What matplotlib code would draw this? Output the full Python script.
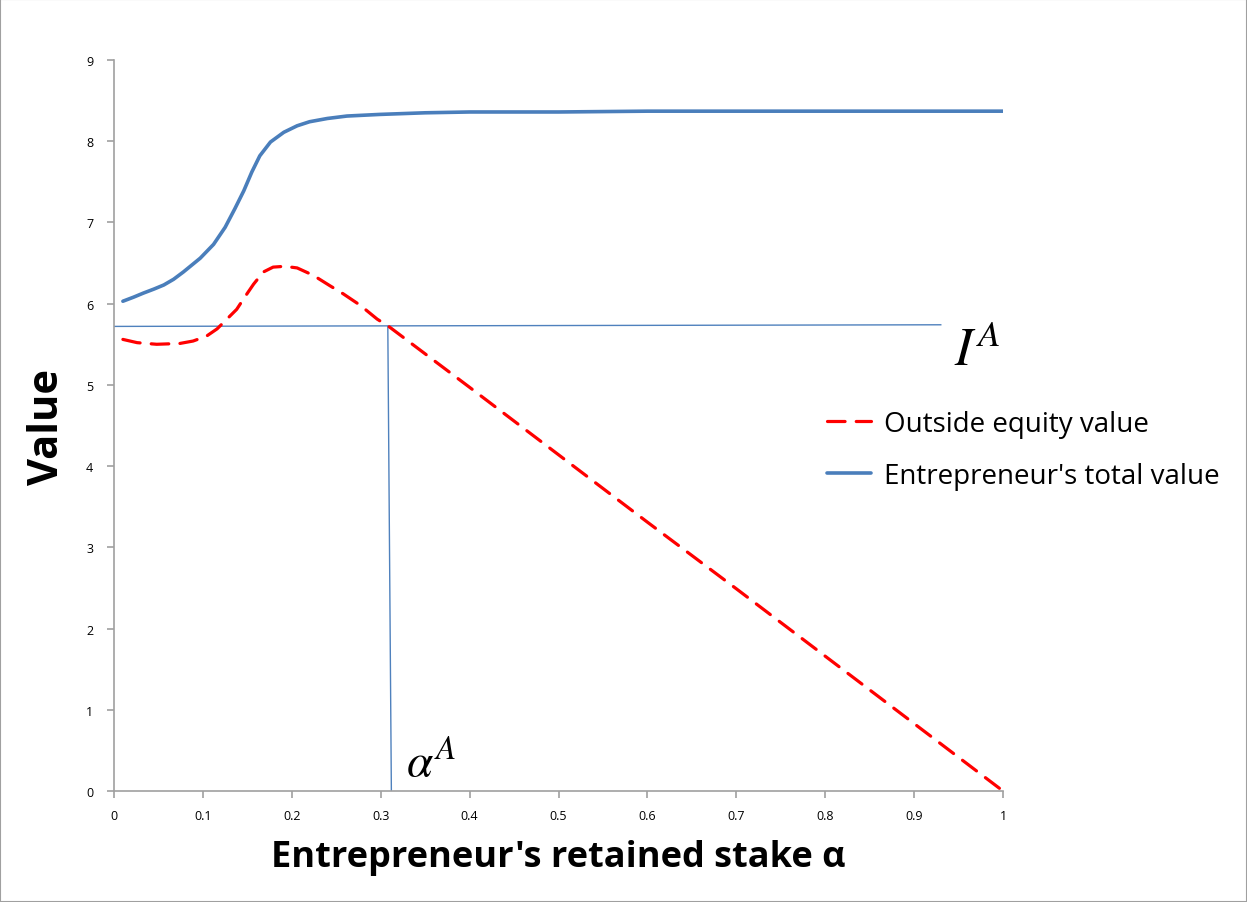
import matplotlib
matplotlib.use("Agg")
import matplotlib.pyplot as plt
from matplotlib.patches import Rectangle

plt.rcParams['font.family'] = ['Open Sans', 'DejaVu Sans']
plt.rcParams['mathtext.fontset'] = 'stix'

# Data
x_total = [0.010, 0.022, 0.033, 0.045, 0.056, 0.067, 0.078, 0.097, 0.112, 0.125, 0.136,
           0.146, 0.155, 0.164, 0.176, 0.191, 0.206, 0.220, 0.240, 0.262, 0.299,
           0.35, 0.40, 0.50, 0.60, 0.80, 1.00]
total_value = [6.03, 6.08, 6.13, 6.18, 6.23, 6.30, 6.39, 6.56, 6.73, 6.94, 7.17,
               7.39, 7.62, 7.82, 7.99, 8.11, 8.19, 8.24, 8.28, 8.31, 8.33,
               8.35, 8.36, 8.36, 8.37, 8.37, 8.37]

x_outside = [0.010, 0.026, 0.048, 0.074, 0.089, 0.104, 0.116, 0.127, 0.138, 0.147,
             0.157, 0.168, 0.179, 0.192, 0.206, 0.224, 0.243, 0.258, 0.277, 0.296,
             0.309, 0.40, 0.50, 0.60, 0.70, 0.80, 0.90, 1.00]
outside_value = [5.56, 5.52, 5.50, 5.51, 5.54, 5.60, 5.69, 5.81, 5.93, 6.08,
                 6.24, 6.39, 6.45, 6.46, 6.44, 6.35, 6.22, 6.12, 5.98, 5.81,
                 5.72, 4.97, 4.14, 3.31, 2.49, 1.66, 0.83, 0.00]

# Reference lines: I^A level and alpha^A
ia_x = [0.0, 0.93]
ia_y = [5.72, 5.74]
alpha_x = [0.308, 0.312]
alpha_y = [5.72, 0.0]

x_ticks = [0, 0.1, 0.2, 0.3, 0.4, 0.5, 0.6, 0.7, 0.8, 0.9, 1]
x_tick_labels = ['0', '0.1', '0.2', '0.3', '0.4', '0.5', '0.6', '0.7', '0.8', '0.9', '1']
y_ticks = list(range(0, 10))

fig = plt.figure(figsize=(12.47, 9.03), dpi=100)
ax = fig.add_axes([114/1247, 1 - 792/903, (1003-114)/1247, (792-61)/903])

ax.plot(ia_x, ia_y, color='#4F81BD', lw=1.0)
ax.plot(alpha_x, alpha_y, color='#4F81BD', lw=1.0)
l1, = ax.plot(x_outside, outside_value, color='#FF0000', lw=2.3, dashes=(5.5, 3.5),
              dash_joinstyle='round', dash_capstyle='round',
              label='Outside equity value')
l2, = ax.plot(x_total, total_value, color='#4A7EBB', lw=2.6,
              solid_joinstyle='round', solid_capstyle='round',
              label="Entrepreneur's total value")

ax.set_xlim(0, 1)
ax.set_ylim(0, 9)
ax.set_xticks(x_ticks)
ax.set_xticklabels(x_tick_labels)
ax.set_yticks(y_ticks)
for s in ['top', 'right']:
    ax.spines[s].set_visible(False)
for s in ['left', 'bottom']:
    ax.spines[s].set_color('#A0A0A0')
    ax.spines[s].set_linewidth(1.2)
ax.tick_params(axis='both', colors='#A0A0A0', labelcolor='black', labelsize=9,
               direction='out', length=5, width=1.2)
ax.tick_params(axis='x', pad=8)
ax.tick_params(axis='y', pad=10)

ax.set_xlabel("Entrepreneur's retained stake α", fontsize=26, fontweight='bold', labelpad=12)
fig.text(48/1247, 1 - 427/903, 'Value', rotation=90, fontsize=30, fontweight='bold',
         ha='center', va='center')

ax.text(0.945, 5.42, r'$I^A$', fontsize=38, ha='left', va='center')
ax.text(0.329, 0.34, r'$\alpha^A$', fontsize=34, ha='left', va='center')

leg = ax.legend(handles=[l1, l2], loc='upper left', bbox_to_anchor=(827/1247, 1 - 411/903),
                bbox_transform=fig.transFigure, frameon=False, fontsize=20,
                handlelength=1.6, handletextpad=0.45, labelspacing=0.85, borderpad=0,
                borderaxespad=0)

fig.patches.append(Rectangle((0, 0), 1, 1, transform=fig.transFigure, fill=False,
                             edgecolor='#A0A0A0', lw=1.5))

fig.savefig('out.png', dpi=100)
